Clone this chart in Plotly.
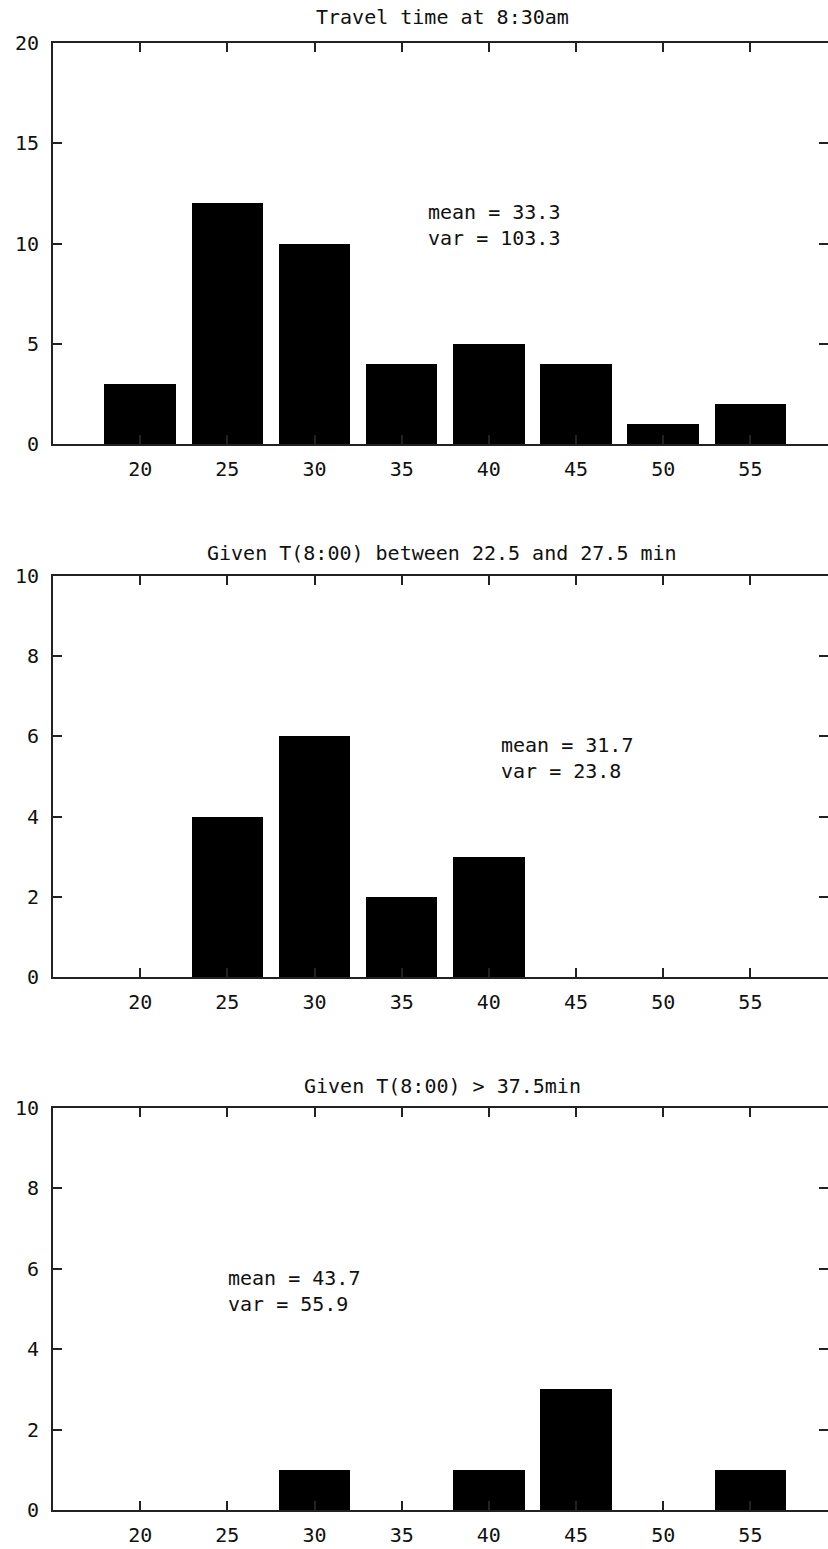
import plotly.graph_objects as go

# ---- data ----
bins = [20, 25, 30, 35, 40, 45, 50, 55]
counts_830 = [3, 12, 10, 4, 5, 4, 1, 2]
counts_mid = [0, 4, 6, 2, 3, 0, 0, 0]
counts_high = [0, 0, 1, 0, 1, 3, 0, 1]

titles = ["Travel time at 8:30am",
          "Given T(8:00) between 22.5 and 27.5 min",
          "Given T(8:00) > 37.5min"]
stats = [("33.3", "103.3"), ("31.7", "23.8"), ("43.7", "55.9")]
stat_pos = [(36.4, 10.9), (40.6, 5.47), (24.95, 5.45)]
y_max = [20, 10, 10]
y_step = [5, 2, 2]
x_ticks = [20, 25, 30, 35, 40, 45, 50, 55]

W, H = 828, 1549
FONT = dict(family="DejaVu Sans Mono", size=20, color="#111")

# pixel frames (top, bottom) for each panel
frames = [(43, 444), (576, 977), (1108, 1510)]
title_y = [17, 553, 1086]

fig = go.Figure()
series = [counts_830, counts_mid, counts_high]
for i, vals in enumerate(series):
    xs = [b for b, v in zip(bins, vals) if v > 0]
    ys = [v for v in vals if v > 0]
    k = "" if i == 0 else str(i + 1)
    fig.add_trace(go.Bar(x=xs, y=ys, width=4.1, marker=dict(color="black", line=dict(width=0)),
                         xaxis="x" + k, yaxis="y" + k, showlegend=False))

layout = dict(width=W, height=H, margin=dict(l=53, r=0, t=0, b=0, autoexpand=False),
              plot_bgcolor="white", paper_bgcolor="white", font=FONT, bargap=0,
              showlegend=False)
annotations = []
for i in range(3):
    k = "" if i == 0 else str(i + 1)
    top, bot = frames[i]
    dom = [1 - bot / H, 1 - top / H]
    axcommon = dict(showline=True, linecolor="#222", linewidth=2, mirror="ticks",
                    ticks="inside", ticklen=9, tickwidth=2, tickcolor="#222",
                    showgrid=False, zeroline=False, tickfont=FONT, automargin=False)
    layout["xaxis" + k] = dict(axcommon, domain=[0, 1], range=[15, 59.45], tickmode="array",
                               tickvals=x_ticks, ticktext=[str(t) for t in x_ticks],
                               anchor="y" + k, ticklabelstandoff=6)
    layout["yaxis" + k] = dict(axcommon, domain=dom, range=[0, y_max[i]], tickmode="linear",
                               tick0=0, dtick=y_step[i], anchor="x" + k, ticklabelstandoff=8)
    annotations.append(dict(text=titles[i], xref="paper", yref="paper",
                            x=(442 - 53) / (W - 53), y=1 - title_y[i] / H,
                            xanchor="center", yanchor="middle", showarrow=False, font=FONT))
    m, v = stats[i]
    annotations.append(dict(text=f"mean = {m}<br>var = {v}", xref="x" + k, yref="y" + k,
                            x=stat_pos[i][0], y=stat_pos[i][1], xanchor="left", yanchor="middle",
                            align="left", showarrow=False, font=FONT))
layout["annotations"] = annotations
fig.update_layout(**layout)

post = ("document.body.style.margin='0';document.body.style.overflow='hidden';"
        "var d=document.getElementById('{plot_id}');d.style.position='absolute';"
        "d.style.left='0px';d.style.top='0px';")
fig.write_html("out.html", post_script=post, config={"displayModeBar": False})
